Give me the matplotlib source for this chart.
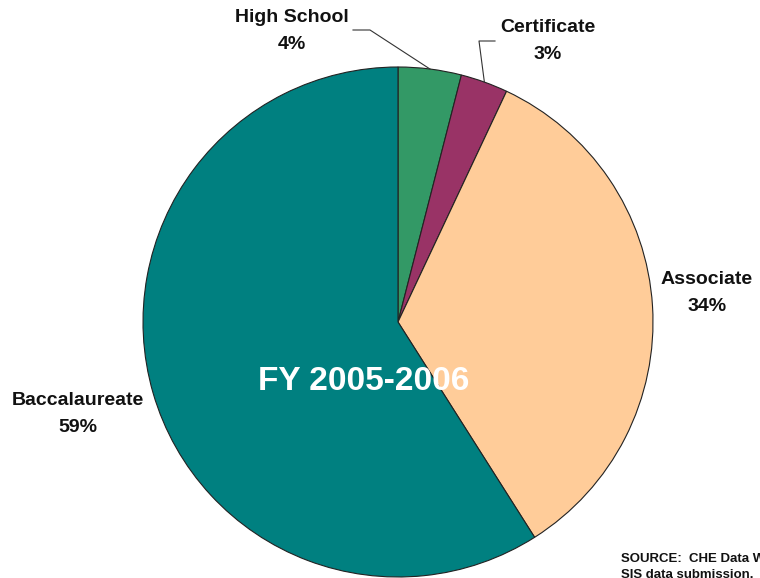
import numpy as np
import matplotlib.pyplot as plt

plt.rcParams['font.family'] = ['Liberation Sans', 'DejaVu Sans']

labels = ['High School', 'Certificate', 'Associate', 'Baccalaureate']
shares = [4, 3, 34, 59]
colors = ['#339966', '#993366', '#FFCC99', '#008080']

W, H = 760, 578
fig = plt.figure(figsize=(W / 100, H / 100), dpi=100)
ax = fig.add_axes([0, 0, 1, 1])

cx, cy, r = 398, H - 322, 255
wedges, _ = ax.pie(shares, colors=colors, startangle=90, counterclock=False,
                   center=(cx, cy), radius=r, frame=True,
                   wedgeprops=dict(edgecolor='#222222', linewidth=0.8))

ax.set_xlim(0, W)
ax.set_ylim(0, H)
ax.set_aspect('equal')
ax.axis('off')

# label centres in pixels from the top-left corner
label_pos = {
    'High School': (292, 31),
    'Certificate': (548, 41),
    'Associate': (707, 293),
    'Baccalaureate': (78, 414),
}
for name, val in zip(labels, shares):
    x, y = label_pos[name]
    ax.text(x, H - y, f'{name}\n{val}%', ha='center', va='center',
            fontsize=14, fontweight='bold', linespacing=1.7, color='#111111')

# leader lines for the two thin slices
def edge_point(w):
    mid = np.deg2rad((w.theta1 + w.theta2) / 2)
    return cx + r * np.cos(mid), cy + r * np.sin(mid)

px, py = edge_point(wedges[0])
ax.plot([353, 370, px], [H - 30, H - 30, py], color='#333333', lw=0.8)
px, py = edge_point(wedges[1])
ax.plot([495, 479, px], [H - 41, H - 41, py], color='#333333', lw=0.8)

ax.text(364, H - 382, 'FY 2005-2006', ha='center', va='center',
        fontsize=24, fontweight='bold', color='white')

# source note, runs off the right and bottom edges
src = ['SOURCE:  CHE Data Warehouse', 'SIS data submission.']
for i, line in enumerate(src):
    ax.text(621, H - 562 - 16 * i, line, ha='left', va='baseline',
            fontsize=9.5, fontweight='bold', color='#111111')

fig.savefig('out.png', dpi=100)
